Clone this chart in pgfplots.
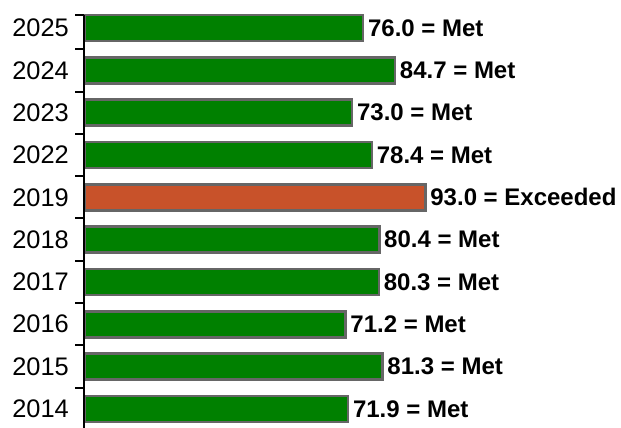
\documentclass[border=0pt]{standalone}
\usepackage{fontspec}
\setmainfont{Liberation Sans}
\usepackage{pgfplots}
\pgfplotsset{compat=1.18}
\usepackage{pgfplotstable}

\definecolor{metgreen}{RGB}{0,128,0}
\definecolor{exceedorange}{RGB}{200,82,42}
\definecolor{barborder}{RGB}{102,102,102}

% pos = row from the bottom (2014 = 0)
\pgfplotstableread[col sep=comma]{
pos,val,label
0,71.9,71.9 = Met
1,81.3,81.3 = Met
2,71.2,71.2 = Met
3,80.3,80.3 = Met
4,80.4,80.4 = Met
6,78.4,78.4 = Met
7,73.0,73.0 = Met
8,84.7,84.7 = Met
9,76.0,76.0 = Met
}\metdata

\pgfplotstableread[col sep=comma]{
pos,val,label
5,93.0,93.0 = Exceeded
}\exceededdata

\begin{document}
\begin{tikzpicture}
  \begin{axis}[
      name=ax,
      xbar, axis on top, clip=false,
      x=1.8333pt, y=21.15pt,
      xmin=0, xmax=100, ymin=-0.45, ymax=9.31,
      enlargelimits=false,
      axis x line=none,
      axis y line*=left,
      axis line style={line width=1pt, black},
      ytick={0,...,9},
      yticklabels={2014,2015,2016,2017,2018,2019,2022,2023,2024,2025},
      major tick length=0pt,
      minor ytick={0.5,1.5,2.5,3.5,4.5,5.5,6.5,7.5,8.5,9.31},
      minor tick length=4.5pt,
      tick align=outside,
      minor tick style={line width=1pt, black},
      yticklabel style={font=\fontsize{12.7}{14}\selectfont, text=black, xshift=-4.3pt},
      bar width=13pt,
      point meta=explicit symbolic,
      nodes near coords,
      nodes near coords style={anchor=west, inner sep=0pt, xshift=1.8pt,
        font=\fontsize{12}{14}\selectfont\bfseries, text=black},
    ]
    \addplot[bar shift=0pt, fill=metgreen, draw=barborder, line width=1.3pt]
      table[x=val, y=pos, meta=label] {\metdata};
    \addplot[bar shift=0pt, fill=exceedorange, draw=barborder, line width=1.3pt]
      table[x=val, y=pos, meta=label] {\exceededdata};
  \end{axis}
  \pgfresetboundingbox
  \path ([xshift=-42.25pt]ax.south west) rectangle ([xshift=268.25pt,yshift=7.5pt]ax.north west);
\end{tikzpicture}
\end{document}
